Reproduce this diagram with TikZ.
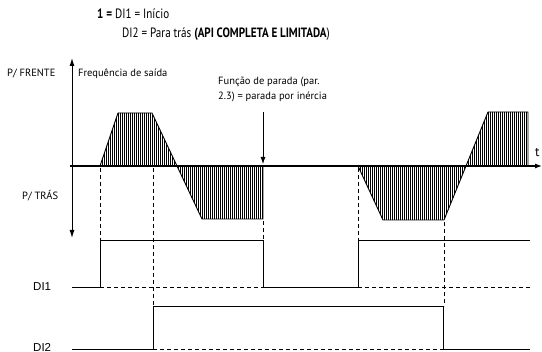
\documentclass[tikz,border=0pt]{standalone}
\usepackage{fontspec}
\setmainfont{PT Sans}
\newfontfamily\hdrfont{PT Sans}[FakeStretch=0.82]
\newfontfamily\arialf{Liberation Sans}
\usetikzlibrary{arrows.meta}
\begin{document}
\begin{tikzpicture}[x=1pt,y=-1pt,
  lbl/.style={inner sep=0pt, anchor=base west, font=\fontsize{10.5}{15}\selectfont},
  hdr/.style={inner sep=0pt, anchor=base west, font=\hdrfont\fontsize{13.5}{16}\selectfont},
  dil/.style={inner sep=0pt, anchor=west, font=\arialf\fontsize{11.5}{13}\selectfont},
  wave/.style={line width=0.9pt, line join=miter},
  sig/.style={line width=0.8pt},
  guide/.style={dash pattern=on 4pt off 3pt, line width=0.7pt},
  hatchline/.style={line width=0.75pt},
  axisline/.style={line width=1.1pt}]
\useasboundingbox (0,0) rectangle (542,352);

% header
\node[hdr] (h1) at (97,19) {\textbf{1 =} DI1 = Início};
\node[hdr] (h2) at (122,38) {DI2 = Para trás \textbf{(API COMPLETA E LIMITADA})};

% labels
\node[lbl] (fwd) at (7,77) {P/ FRENTE};
\node[lbl] (freq) at (78,77) {Frequência de saída};
\node[lbl] (rev) at (22,200) {P/ TRÁS};
\node[lbl, align=left, anchor=north west] (stop) at (218,77) {Função de parada (par.\\2.3) = parada por inércia};
\node[inner sep=0pt, anchor=base west, font=\fontsize{13}{14}\selectfont] (tl) at (535,157) {t};
\node[dil] (di1) at (33,287) {DI1};
\node[dil] (di2) at (33,347) {DI2};

% hatching
\begin{scope}
  \clip (100,166) -- (118,113) -- (152,113) -- (202,219) -- (263,219) -- (263,166) -- cycle;
  \foreach \x in {100,102,...,264} \draw[hatchline] (\x,105) -- (\x,225);
\end{scope}
\begin{scope}
  \clip (358,166) -- (383,220) -- (444,220) -- (488,112) -- (528,112) -- (528,166) -- cycle;
  \foreach \x in {358,360,...,530} \draw[hatchline] (\x,105) -- (\x,225);
\end{scope}

% waveform
\draw[wave] (100,166) -- (118,113) -- (152,113) -- (202,219) -- (263,219) -- (263,166);
\draw[wave] (358,166) -- (383,220) -- (444,220) -- (488,112) -- (528,112) -- (528,166);

% axes
\coordinate (ax0) at (70,166);
\coordinate (axE) at (542,166);
\draw[axisline, -{Latex[length=7pt,width=5pt]}] (ax0) -- (axE);
\draw[line width=1.4pt] (263,166) -- (358,166);
\coordinate (vtop) at (72,58);
\coordinate (vbot) at (72,238);
\draw[line width=1pt, {Latex[length=8pt,width=5pt]}-{Latex[length=8pt,width=5pt]}] (vbot) -- (vtop);

% stop arrow
\coordinate (sa) at (263,112);
\coordinate (sb) at (263,164);
\draw[line width=0.8pt, -{Latex[length=7pt,width=5pt]}] (sa) -- (sb);

% guides
\draw[guide] (100,168) -- (100,240);
\draw[guide] (153,168) -- (153,306);
\draw[guide] (263,221) -- (263,240);
\draw[guide] (358,168) -- (358,240);
\draw[guide] (444,222) -- (444,306);
\draw[guide] (100,287) -- (263,287);
\draw[guide] (358,287) -- (530,287);
\draw[guide] (153,349) -- (443,349);

% DI1 signal
\draw[sig] (72,287) -- (100,287) -- (100,240) -- (263,240) -- (263,287) -- (358,287) -- (358,240) -- (530,240);
% DI2 signal
\draw[sig] (72,349) -- (153,349) -- (153,306) -- (443,306) -- (443,349) -- (530,349);
\end{tikzpicture}
\end{document}
